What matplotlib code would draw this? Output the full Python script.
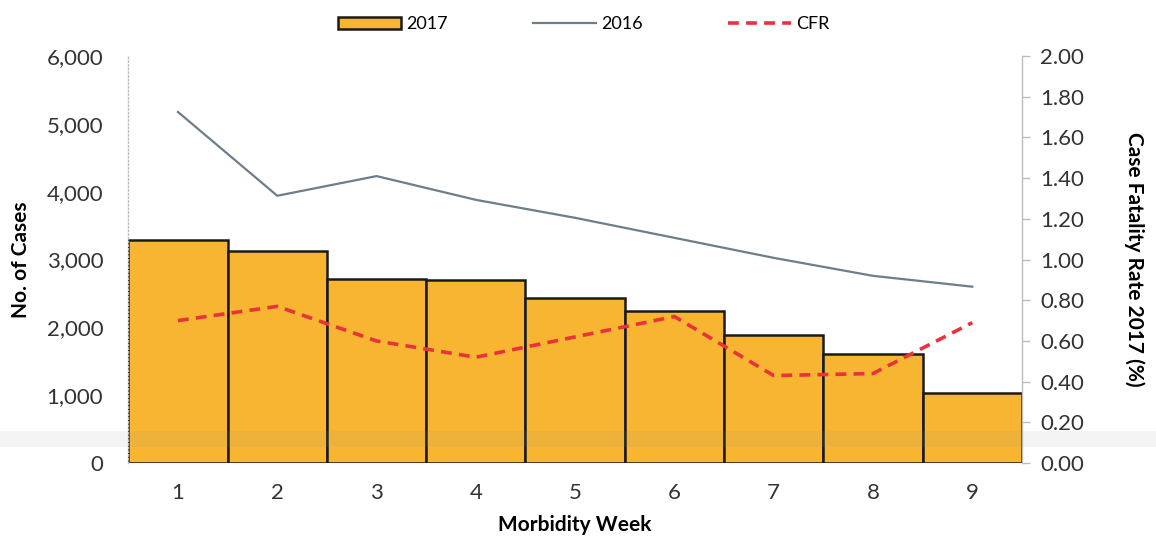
import matplotlib.pyplot as plt
from matplotlib.patches import Rectangle
from matplotlib.ticker import FuncFormatter

plt.rcParams['font.family'] = ['Lato', 'DejaVu Sans']

weeks = [1, 2, 3, 4, 5, 6, 7, 8, 9]
cases_2017 = [3290, 3130, 2715, 2700, 2435, 2245, 1890, 1610, 1035]
cases_2016 = [5175, 3940, 4230, 3880, 3615, 3320, 3025, 2760, 2600]
cfr_2017 = [0.70, 0.77, 0.60, 0.52, 0.62, 0.72, 0.43, 0.44, 0.69]

fig = plt.figure(figsize=(11.56, 5.41), dpi=100)
ax = fig.add_axes([0.111, 0.144, 0.773, 0.7525])
ax2 = ax.twinx()

bars = ax.bar(weeks, cases_2017, width=1.0, color='#F8B531', edgecolor='#1a1a1a',
              linewidth=1.8, label='2017', zorder=2)
line16, = ax.plot(weeks, cases_2016, color='#6D7E8B', linewidth=1.6, label='2016', zorder=3)
cfr, = ax2.plot(weeks, cfr_2017, color='#E8323C', linewidth=2.6, linestyle=(0, (3, 2)),
                label='CFR', zorder=4)

ax.set_xlim(0.5, 9.5)
ax.set_ylim(0, 6000)
ax2.set_ylim(0, 2.0)
ax.set_yticks(range(0, 6001, 1000))
ax.yaxis.set_major_formatter(FuncFormatter(lambda v, p: f'{int(v):,}'))
ax2.set_yticks([i * 0.2 for i in range(11)])
ax2.yaxis.set_major_formatter(FuncFormatter(lambda v, p: f'{v:.2f}'))
ax.set_xticks(weeks)

for s in ['top', 'right', 'bottom']:
    ax.spines[s].set_visible(False)
for s in ['top', 'left', 'bottom']:
    ax2.spines[s].set_visible(False)
ax.spines['left'].set_color('#bdbdbd')
ax.spines['left'].set_linestyle(':')
ax.spines['left'].set_linewidth(1.0)
ax2.spines['right'].set_color('#bdbdbd')
ax2.spines['right'].set_linewidth(1.0)

ax.tick_params(axis='y', length=0, pad=18, labelsize=16, labelcolor='#333333')
ax.tick_params(axis='x', length=0, pad=14, labelsize=16, labelcolor='#333333')
ax2.tick_params(axis='y', length=6, width=1, color='#bdbdbd', pad=7,
                labelsize=16, labelcolor='#333333')

ax.set_xlabel('Morbidity Week', fontsize=15, fontweight='bold', labelpad=9)
ax.set_ylabel('No. of Cases', fontsize=15, fontweight='bold', labelpad=11)
ax2.set_ylabel('Case Fatality Rate 2017 (%)', fontsize=15, fontweight='bold',
               rotation=270, labelpad=44)

fig.legend([bars, line16, cfr], ['2017', '2016', 'CFR'], loc='upper center',
           bbox_to_anchor=(0.505, 1.0), ncol=3, frameon=False, fontsize=13,
           handlelength=3.5, handleheight=0.6, columnspacing=4.7,
           handletextpad=0.3)

# faint scan band across the page
fig.patches.append(Rectangle((0, 1 - 447 / 541), 1, 16 / 541,
                             transform=fig.transFigure, facecolor='#9a9a9a',
                             alpha=0.1, edgecolor='none', zorder=10))

plt.savefig('out.png', dpi=100)
